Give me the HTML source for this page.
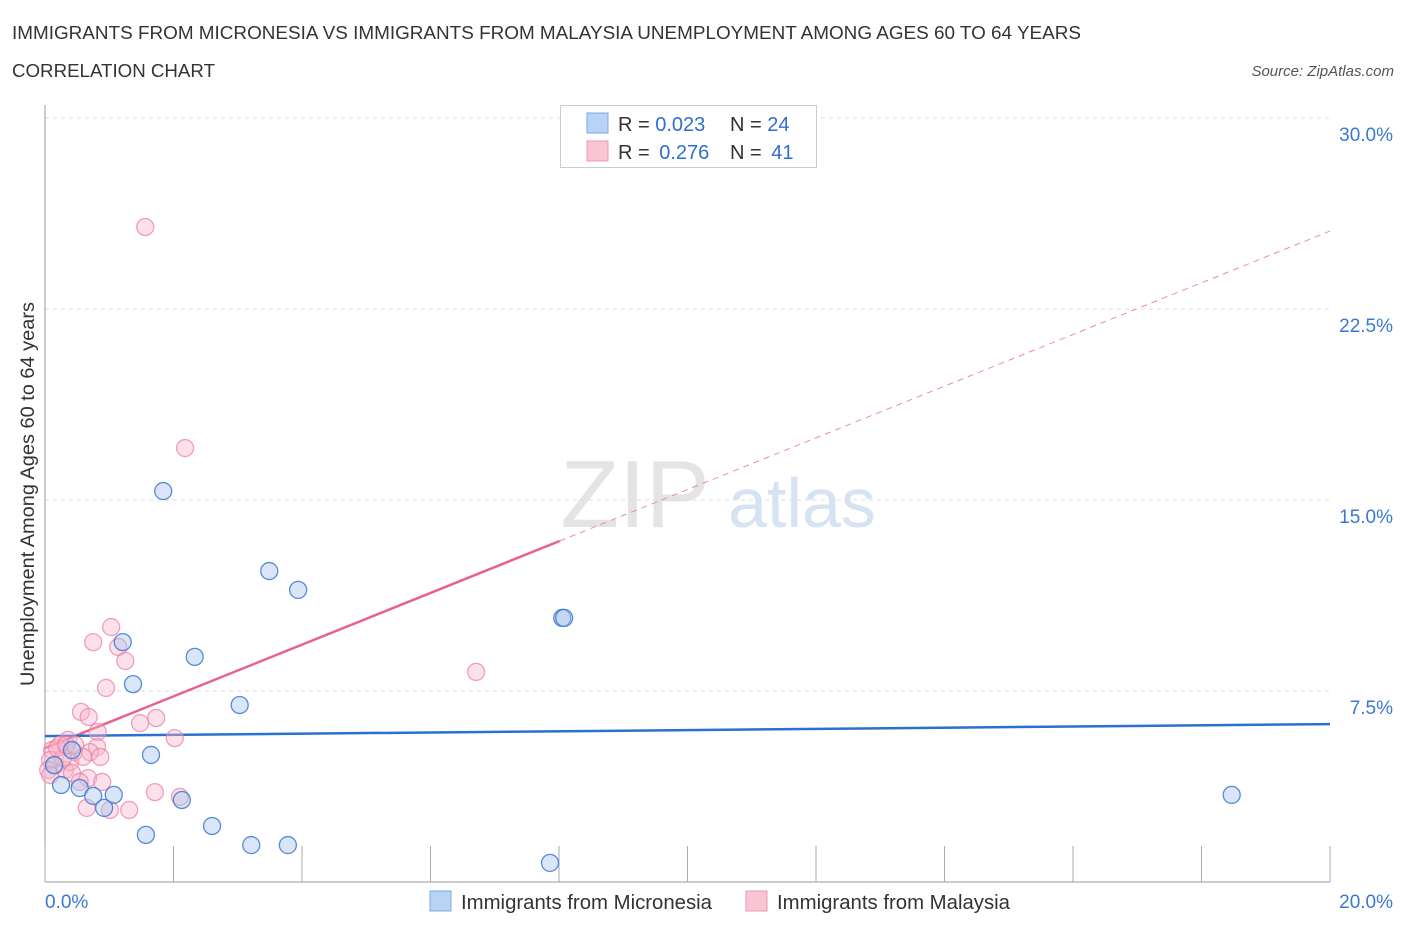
<!DOCTYPE html>
<html><head><meta charset="utf-8">
<style>
body{margin:0;background:#fff;font-family:"Liberation Sans",sans-serif;}
svg text{font-family:"Liberation Sans",sans-serif;}
</style></head>
<body>
<svg id="chart" width="1406" height="930" xmlns="http://www.w3.org/2000/svg">
<text x="12" y="39" font-size="18" fill="#333" textLength="1069" lengthAdjust="spacingAndGlyphs">IMMIGRANTS FROM MICRONESIA VS IMMIGRANTS FROM MALAYSIA UNEMPLOYMENT AMONG AGES 60 TO 64 YEARS</text>
<text x="12" y="77" font-size="18" fill="#333" textLength="203" lengthAdjust="spacingAndGlyphs">CORRELATION CHART</text>
<text x="1394" y="76" font-size="15" fill="#555" font-style="italic" text-anchor="end">Source: ZipAtlas.com</text>
<text x="635" y="527" font-size="96" fill="#e4e4e4" font-family="Liberation Serif" text-anchor="middle">ZIP</text>
<text x="802" y="527" font-size="70" fill="#d6e3f3" text-anchor="middle">atlas</text>
<g id="grid"></g>
<g id="axes"></g>
<g id="lines"></g>
<g id="points"></g>
<text transform="translate(34,494) rotate(-90)" font-size="19" fill="#333" text-anchor="middle" textLength="384" lengthAdjust="spacingAndGlyphs">Unemployment Among Ages 60 to 64 years</text>
<g>
<rect x="560.5" y="105.5" width="256" height="62" fill="#fff" stroke="#ccc"/>
<rect x="587" y="113" width="21" height="20" fill="#b9d3f5" stroke="#7aaae6"/>
<rect x="587" y="141" width="21" height="20" fill="#f9c4d4" stroke="#ec9ab3"/>
<text x="618" y="131" font-size="20" fill="#333">R = <tspan fill="#2f6fd0">0.023</tspan></text>
<text x="730" y="131" font-size="20" fill="#333">N = <tspan fill="#2f6fd0">24</tspan></text>
<text x="618" y="159" font-size="20" fill="#333">R = <tspan fill="#2f6fd0" dx="4">0.276</tspan></text>
<text x="730" y="159" font-size="20" fill="#333">N = <tspan fill="#2f6fd0" dx="4">41</tspan></text>
</g>
<g>
<rect x="430" y="891" width="21" height="20" fill="#b9d3f5" stroke="#7aaae6"/>
<text x="461" y="909" font-size="20" fill="#333" textLength="251" lengthAdjust="spacingAndGlyphs">Immigrants from Micronesia</text>
<rect x="746" y="891" width="21" height="20" fill="#f9c4d4" stroke="#ec9ab3"/>
<text x="777" y="909" font-size="20" fill="#333" textLength="233" lengthAdjust="spacingAndGlyphs">Immigrants from Malaysia</text>
</g>
</svg>
<script>
const blueX=[1.84,3.49,3.94,8.05,8.08,1.21,2.33,1.37,3.03,1.65,0.42,0.25,0.54,0.75,1.07,0.92,2.13,2.60,1.57,3.21,3.78,7.86,18.47,0.14];
const blueY=[15.35,12.21,11.47,10.37,10.37,9.42,8.84,7.77,6.95,4.99,5.18,3.81,3.69,3.38,3.42,2.91,3.22,2.20,1.85,1.45,1.45,0.75,3.42,4.59];
const pinkX=[1.56,2.18,1.03,0.75,1.14,1.25,0.95,0.56,0.68,1.73,1.48,2.02,0.82,0.36,0.81,0.70,0.86,0.45,0.23,0.11,0.08,0.16,0.05,0.31,0.39,0.59,0.42,0.67,0.54,0.89,0.65,1.01,1.31,1.71,2.10,6.71,0.28,0.19,0.33,0.08,0.47];
const pinkY=[25.72,17.04,10.01,9.42,9.23,8.68,7.62,6.68,6.48,6.44,6.24,5.65,5.89,5.58,5.30,5.10,4.91,5.10,5.38,5.18,4.79,4.59,4.40,4.40,4.71,4.91,4.28,4.08,3.93,3.93,2.91,2.83,2.83,3.53,3.34,8.25,4.87,5.26,5.38,4.20,5.38];
const yTicks=[7.5,15,22.5,30];
const yTickLabels=["7.5%","15.0%","22.5%","30.0%"];
const xTicks=[0,2,4,6,8,10,12,14,16,18,20];
const blueTrend=[5.73,6.20];
const pinkTrend=[5.26,25.56];
const pinkSolidEnd=8.01;

const NS="http://www.w3.org/2000/svg";
const X=v=>45+v/20*1285;
const Y=v=>882-v/7.5*191;
function mk(tag,attrs,parent){const e=document.createElementNS(NS,tag);for(const k in attrs)e.setAttribute(k,attrs[k]);document.getElementById(parent).appendChild(e);return e;}

yTicks.forEach((t,i)=>{
  const l=mk('line',{x1:45,x2:1330,y1:Y(t),y2:Y(t),stroke:'#ddd','stroke-dasharray':'4,4'},'grid');
  
  
  const tx=mk('text',{x:1393,y:Y(t)+23,'font-size':19,fill:'#3a78d4','text-anchor':'end'},'grid');
  tx.textContent=yTickLabels[i];
  
  
});
const ya=mk('line',{x1:45,x2:45,y1:105,y2:882,stroke:'#999'},'axes');


const xa=mk('line',{x1:45,x2:1330,y1:882,y2:882,stroke:'#999'},'axes');


xTicks.forEach(t=>{
  const l=mk('line',{x1:X(t),x2:X(t),y1:846,y2:882,stroke:'#aaa'},'axes');
  
  
});
const xl0=mk('text',{x:45,y:908,'font-size':19,fill:'#3a78d4'},'axes');xl0.textContent="0.0%";


const xl1=mk('text',{x:1393,y:908,'font-size':19,fill:'#3a78d4','text-anchor':'end'},'axes');xl1.textContent="20.0%";



function pt(x,y,fill,stroke,name){
  const c=mk('circle',{cx:X(x),cy:Y(y),r:8.5,fill:fill,stroke:stroke,'stroke-width':1.3},'points');
  
  
}
pinkX.forEach((x,i)=>pt(x,pinkY[i],'rgba(248,180,202,0.4)','rgba(236,130,164,0.75)','malaysia-point'));
blueX.forEach((x,i)=>pt(x,blueY[i],'rgba(170,200,240,0.45)','rgba(60,120,210,0.85)','micronesia-point'));

const pv=x=>pinkTrend[0]+(pinkTrend[1]-pinkTrend[0])*x/20;
const pd=mk('line',{x1:X(pinkSolidEnd),y1:Y(pv(pinkSolidEnd)),x2:X(20),y2:Y(pinkTrend[1]),stroke:'#ec8aa8','stroke-width':1,'stroke-dasharray':'6,5'},'lines');


const ps=mk('line',{x1:X(0),y1:Y(pinkTrend[0]),x2:X(pinkSolidEnd),y2:Y(pv(pinkSolidEnd)),stroke:'#e8628c','stroke-width':2.5},'lines');


const bl=mk('line',{x1:X(0),y1:Y(blueTrend[0]),x2:X(20),y2:Y(blueTrend[1]),stroke:'#2a6fd2','stroke-width':2.5},'lines');


</script>
</body></html>
